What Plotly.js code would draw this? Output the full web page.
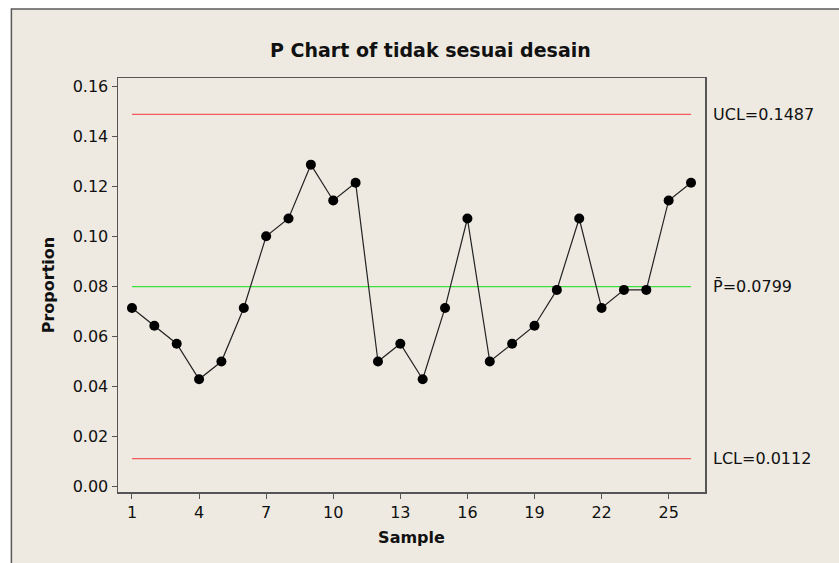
<!DOCTYPE html>
<html>
<head>
<meta charset="utf-8">
<script src="https://cdn.plot.ly/plotly-3.0.1.min.js"></script>
<style>
html,body{margin:0;padding:0;background:#ffffff;}
#chart{width:839px;height:563px;}
</style>
</head>
<body>
<div id="chart"></div>
<script>
// Data
const samples = [1,2,3,4,5,6,7,8,9,10,11,12,13,14,15,16,17,18,19,20,21,22,23,24,25,26];
const proportions = [0.0714,0.0643,0.0571,0.0429,0.0500,0.0714,0.1000,0.1071,0.1286,0.1143,0.1214,
                     0.0500,0.0571,0.0429,0.0714,0.1071,0.0500,0.0571,0.0643,0.0786,0.1071,0.0714,
                     0.0786,0.0786,0.1143,0.1214];
const ucl = 0.1487;
const pbar = 0.0799;
const lcl = 0.0112;
const xTickVals = [1,4,7,10,13,16,19,22,25];
const yTickVals = [0,0.02,0.04,0.06,0.08,0.10,0.12,0.14,0.16];

const first = samples[0], last = samples[samples.length-1];
const font = "DejaVu Sans, Verdana, sans-serif";

const traces = [
  {x:[first,last], y:[ucl,ucl], mode:'lines', line:{color:'#F25C5C', width:1.2}, hoverinfo:'skip'},
  {x:[first,last], y:[pbar,pbar], mode:'lines', line:{color:'#3CE03C', width:1.2}, hoverinfo:'skip'},
  {x:[first,last], y:[lcl,lcl], mode:'lines', line:{color:'#F25C5C', width:1.2}, hoverinfo:'skip'},
  {x:samples, y:proportions, mode:'lines+markers',
   line:{color:'#222222', width:1.2},
   marker:{color:'#000000', size:10, symbol:'circle'}}
];

const layout = {
  width:839, height:563,
  margin:{l:118, r:134, t:78, b:71, pad:0},
  paper_bgcolor:'#ffffff',
  plot_bgcolor:'#ffffff',
  showlegend:false,
  font:{family:font, color:'#111111', size:16},
  title:{text:'<b>P Chart of tidak sesuai desain</b>', font:{family:font, size:19, color:'#111111'},
         x:0.513, xanchor:'center', y:0.91, yanchor:'middle'},
  xaxis:{
    range:[0.375,26.625], tickmode:'array', tickvals:xTickVals,
    ticks:'outside', ticklen:5, tickcolor:'#555555', tickwidth:1,
    showline:true, linecolor:'#555555', linewidth:1.5, mirror:true,
    showgrid:false, zeroline:false,
    tickfont:{family:font, size:16, color:'#111111'},
    title:{text:'<b>Sample</b>', font:{family:font, size:16, color:'#111111'}, standoff:11}
  },
  yaxis:{
    range:[-0.0021,0.1632], tickmode:'array', tickvals:yTickVals, tickformat:'.2f',
    ticks:'outside', ticklen:5, tickcolor:'#555555', tickwidth:1,
    showline:true, linecolor:'#555555', linewidth:1.5, mirror:true,
    showgrid:false, zeroline:false,
    tickfont:{family:font, size:16, color:'#111111'},
    title:{text:'<b>Proportion</b>', font:{family:font, size:16, color:'#111111'}, standoff:14}
  },
  shapes:[
    {type:'rect', xref:'paper', yref:'paper', x0:-0.1816, x1:1.3, y0:-0.3, y1:1.1667,
     fillcolor:'#EEEAE1', line:{color:'#5a5a5a', width:1.5}, layer:'below'}
  ],
  annotations:[
    {xref:'paper', x:1, xanchor:'left', xshift:6, yref:'y', y:ucl, yanchor:'middle',
     text:'UCL='+ucl.toFixed(4), showarrow:false, font:{family:font, size:16, color:'#111111'}},
    {xref:'paper', x:1, xanchor:'left', xshift:6, yref:'y', y:pbar, yanchor:'middle',
     text:'P\u0304='+pbar.toFixed(4), showarrow:false, font:{family:font, size:16, color:'#111111'}},
    {xref:'paper', x:1, xanchor:'left', xshift:6, yref:'y', y:lcl, yanchor:'middle',
     text:'LCL='+lcl.toFixed(4), showarrow:false, font:{family:font, size:16, color:'#111111'}}
  ]
};

Plotly.newPlot('chart', traces, layout, {staticPlot:true, displayModeBar:false});
</script>
</body>
</html>
